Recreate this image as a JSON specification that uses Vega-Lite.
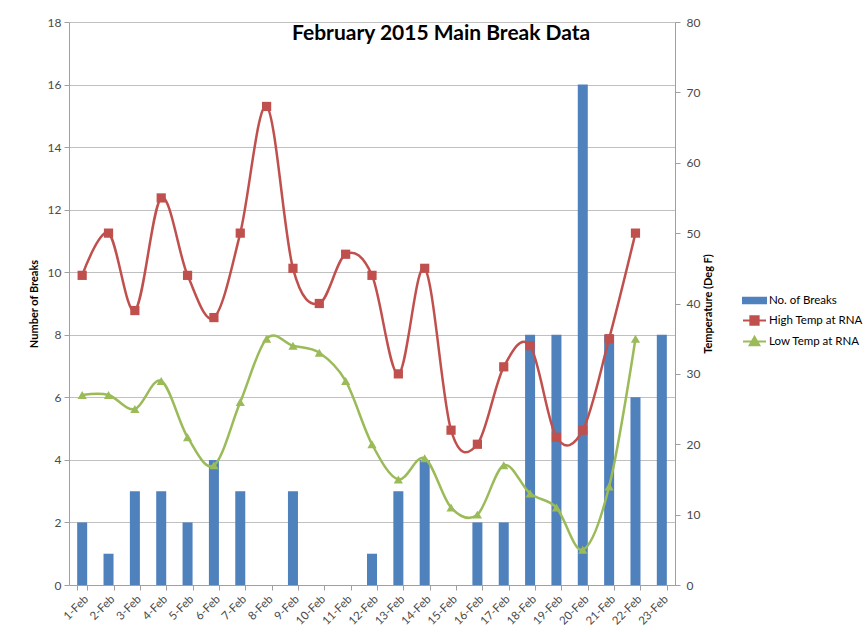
{
  "$schema": "https://vega.github.io/schema/vega-lite/v6.json",
  "autosize": {"type": "none"},
  "padding": {"left": 69, "top": 22, "right": 190, "bottom": 47},
  "width": 606,
  "height": 563,
  "background": "white",
  "config": {
    "font": "Lato",
    "view": {"stroke": null},
    "axis": {
      "labelFont": "Lato",
      "labelColor": "#4a4a4a",
      "labelFontSize": 12,
      "domainColor": "#a0a0a0",
      "tickColor": "#a0a0a0",
      "tickSize": 5,
      "gridColor": "#c0c0c0",
      "gridWidth": 1.2,
      "titleFont": "Lato",
      "titleFontSize": 11,
      "titleFontWeight": "bold",
      "titleColor": "#000000"
    },
    "legend": {
      "orient": "none",
      "legendX": 673,
      "legendY": 266,
      "title": null,
      "labelFont": "Lato",
      "labelFontSize": 11.5,
      "labelColor": "#000000",
      "symbolSize": 529,
      "labelOffset": 2,
      "rowPadding": 0,
      "padding": 0
    }
  },
  "title": {
    "text": "February 2015 Main Break Data",
    "anchor": "start",
    "frame": "group",
    "dx": 223,
    "offset": -28,
    "fontSize": 21,
    "fontWeight": "bold",
    "color": "#000000",
    "font": "Lato"
  },
  "data": {
    "values": [
      {"day": "1-Feb", "breaks": 2, "high": 44, "low": 27},
      {"day": "2-Feb", "breaks": 1, "high": 50, "low": 27},
      {"day": "3-Feb", "breaks": 3, "high": 39, "low": 25},
      {"day": "4-Feb", "breaks": 3, "high": 55, "low": 29},
      {"day": "5-Feb", "breaks": 2, "high": 44, "low": 21},
      {"day": "6-Feb", "breaks": 4, "high": 38, "low": 17},
      {"day": "7-Feb", "breaks": 3, "high": 50, "low": 26},
      {"day": "8-Feb", "breaks": 0, "high": 68, "low": 35},
      {"day": "9-Feb", "breaks": 3, "high": 45, "low": 34},
      {"day": "10-Feb", "breaks": 0, "high": 40, "low": 33},
      {"day": "11-Feb", "breaks": 0, "high": 47, "low": 29},
      {"day": "12-Feb", "breaks": 1, "high": 44, "low": 20},
      {"day": "13-Feb", "breaks": 3, "high": 30, "low": 15},
      {"day": "14-Feb", "breaks": 4, "high": 45, "low": 18},
      {"day": "15-Feb", "breaks": 0, "high": 22, "low": 11},
      {"day": "16-Feb", "breaks": 2, "high": 20, "low": 10},
      {"day": "17-Feb", "breaks": 2, "high": 31, "low": 17},
      {"day": "18-Feb", "breaks": 8, "high": 34, "low": 13},
      {"day": "19-Feb", "breaks": 8, "high": 21, "low": 11},
      {"day": "20-Feb", "breaks": 16, "high": 22, "low": 5},
      {"day": "21-Feb", "breaks": 8, "high": 35, "low": 14},
      {"day": "22-Feb", "breaks": 6, "high": 50, "low": 35},
      {"day": "23-Feb", "breaks": 8, "high": null, "low": null}
    ]
  },
  "encoding": {
    "x": {
      "field": "day",
      "type": "ordinal",
      "sort": null,
      "title": null,
      "scale": {"paddingInner": 0.62, "paddingOuter": 0.31},
      "axis": {
        "labelAngle": -45,
        "labelAlign": "right",
        "labelBaseline": "top",
        "labelFontSize": 11.5,
        "labelPadding": 3,
        "tickBand": "extent",
        "grid": false
      }
    }
  },
  "layer": [
    {
      "mark": {"type": "bar", "color": "#4f81bd"},
      "encoding": {
        "y": {
          "field": "breaks",
          "type": "quantitative",
          "scale": {"domain": [0, 18]},
          "axis": {
            "orient": "left",
            "values": [0, 2, 4, 6, 8, 10, 12, 14, 16, 18],
            "grid": true,
            "title": "Number of Breaks",
            "labelPadding": 3,
            "titlePadding": 8
          }
        },
        "color": {
          "datum": "breaks",
          "type": "nominal",
          "scale": {
            "domain": ["breaks", "high", "low"],
            "range": ["#4f81bd", "#c0504d", "#9bbb59"]
          },
          "legend": {
            "labelExpr": "datum.value == 'breaks' ? 'No. of Breaks' : datum.value == 'high' ? 'High Temp at RNA' : 'Low Temp at RNA'",
            "encode": {
              "symbols": {
                "update": {
                  "shape": {"signal": "datum.value == 'breaks' ? 'M-1,-0.23H1V0.23H-1Z' : datum.value == 'high' ? 'M-1,0H1M-0.36,-0.36H0.36V0.36H-0.36Z' : 'M-1,0H1M0,-0.42L0.42,0.32H-0.42Z'"},
                  "fill": {"scale": "color", "field": "value"},
                  "stroke": {"scale": "color", "field": "value"},
                  "strokeWidth": {"value": 2},
                  "opacity": {"value": 1},
                  "fillOpacity": {"value": 1}
                }
              }
            }
          }
        }
      }
    },
    {
      "transform": [
        {"fold": ["high", "low"], "as": ["series", "temp"]},
        {"filter": "datum.temp != null"}
      ],
      "encoding": {
        "y": {
          "field": "temp",
          "type": "quantitative",
          "scale": {"domain": [0, 80]},
          "axis": {
            "orient": "right",
            "values": [0, 10, 20, 30, 40, 50, 60, 70, 80],
            "grid": false,
            "title": "Temperature (Deg F)",
            "titleAngle": 270,
            "labelPadding": 6,
            "titlePadding": 14
          }
        },
        "color": {
          "field": "series",
          "type": "nominal",
          "legend": {
            "labelExpr": "datum.value == 'breaks' ? 'No. of Breaks' : datum.value == 'high' ? 'High Temp at RNA' : 'Low Temp at RNA'",
            "encode": {
              "symbols": {
                "update": {
                  "shape": {"signal": "datum.value == 'breaks' ? 'M-1,-0.23H1V0.23H-1Z' : datum.value == 'high' ? 'M-1,0H1M-0.36,-0.36H0.36V0.36H-0.36Z' : 'M-1,0H1M0,-0.42L0.42,0.32H-0.42Z'"},
                  "fill": {"scale": "color", "field": "value"},
                  "stroke": {"scale": "color", "field": "value"},
                  "strokeWidth": {"value": 2},
                  "opacity": {"value": 1},
                  "fillOpacity": {"value": 1}
                }
              }
            }
          }
        }
      },
      "layer": [
        {
          "mark": {"type": "line", "interpolate": "cardinal", "strokeWidth": 2.5}
        },
        {
          "mark": {"type": "point", "filled": true, "opacity": 1, "size": 85},
          "encoding": {
            "shape": {
              "field": "series",
              "type": "nominal",
              "scale": {"domain": ["high", "low"], "range": ["square", "triangle-up"]},
              "legend": null
            }
          }
        }
      ]
    }
  ],
  "resolve": {"scale": {"y": "independent"}}
}
